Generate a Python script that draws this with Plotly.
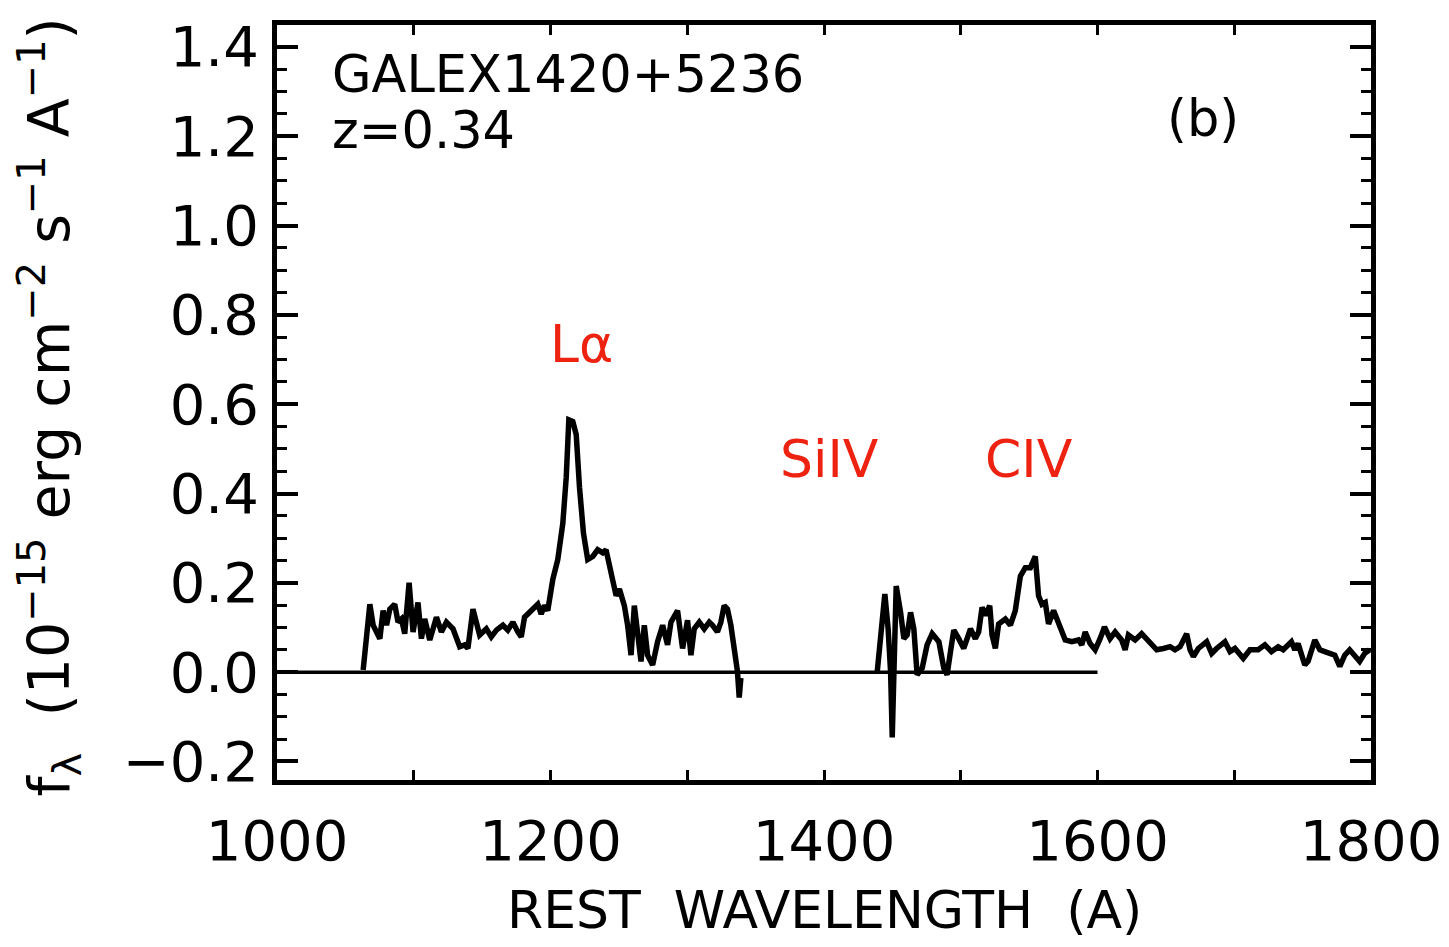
import plotly.graph_objects as go

# ---------------- data ----------------
wave_blue = [1063.0, 1067.9, 1070.3, 1075.2, 1077.6, 1080.1, 1082.5, 1086.1, 1088.5, 1091.0,
             1093.4, 1096.6, 1099.5, 1103.1, 1105.6, 1108.0, 1111.7, 1116.6, 1120.2, 1123.9,
             1128.7, 1133.6, 1137.2, 1139.6, 1143.3, 1148.2, 1153.1, 1156.7, 1160.4, 1165.2,
             1168.8, 1172.5, 1176.1, 1178.6, 1181.0, 1184.7, 1188.3, 1190.7, 1193.2, 1195.6,
             1198.0, 1201.7, 1205.3, 1209.0, 1211.5, 1213.4, 1216.3, 1218.8, 1221.2, 1224.1,
             1227.2, 1230.9, 1234.5, 1238.2, 1240.6, 1243.1, 1245.5, 1248.0, 1250.4, 1254.0,
             1256.4, 1258.9, 1261.3, 1263.7, 1266.2, 1268.6, 1271.0, 1274.7, 1278.3, 1282.0,
             1285.6, 1288.1, 1292.9, 1296.6, 1300.2, 1302.7, 1305.1, 1308.8, 1312.4, 1316.1,
             1318.5, 1322.1, 1324.6, 1327.0, 1329.4, 1331.9, 1334.3, 1336.7, 1338.0, 1339.2]
flux_blue = [0.005, 0.152, 0.105, 0.075, 0.138, 0.105, 0.141, 0.152, 0.112, 0.119,
             0.086, 0.200, 0.090, 0.156, 0.075, 0.119, 0.072, 0.123, 0.090, 0.112,
             0.097, 0.057, 0.061, 0.053, 0.141, 0.083, 0.097, 0.079, 0.094, 0.105,
             0.094, 0.112, 0.090, 0.079, 0.123, 0.134, 0.141, 0.152, 0.130, 0.149,
             0.138, 0.208, 0.252, 0.333, 0.436, 0.565, 0.561, 0.532, 0.414, 0.311,
             0.252, 0.259, 0.274, 0.267, 0.274, 0.237, 0.193, 0.171, 0.186, 0.149,
             0.105, 0.038, 0.149, 0.083, 0.024, 0.105, 0.038, 0.016, 0.068, 0.105,
             0.061, 0.112, 0.138, 0.053, 0.116, 0.038, 0.097, 0.112, 0.097, 0.112,
             0.105, 0.090, 0.112, 0.149, 0.141, 0.105, 0.053, 0.002, -0.057, -0.013]

wave_red = [1438.9, 1444.5, 1446.9, 1448.7, 1449.9, 1451.1, 1452.8, 1456.0, 1458.4, 1460.8,
            1463.3, 1465.7, 1468.1, 1471.8, 1475.4, 1479.1, 1484.0, 1487.6, 1490.0, 1492.5,
            1494.9, 1498.5, 1502.2, 1507.1, 1510.7, 1513.1, 1515.6, 1518.0, 1521.2, 1522.9,
            1525.3, 1527.7, 1532.6, 1536.3, 1539.9, 1543.6, 1547.2, 1550.9, 1554.5, 1556.9,
            1559.4, 1561.8, 1564.2, 1567.9, 1571.5, 1576.4, 1581.2, 1586.1, 1588.5, 1591.0,
            1594.6, 1598.3, 1601.9, 1605.1, 1609.2, 1612.9, 1617.7, 1620.2, 1622.6, 1627.5,
            1632.3, 1637.2, 1643.3, 1648.2, 1653.1, 1656.7, 1660.4, 1665.2, 1667.7, 1670.1,
            1673.7, 1679.8, 1683.5, 1687.1, 1693.2, 1696.9, 1700.5, 1706.6, 1711.5, 1717.5,
            1722.4, 1727.2, 1732.1, 1735.8, 1741.8, 1744.3, 1746.7, 1751.6, 1754.0, 1758.9,
            1762.6, 1766.2, 1773.5, 1777.2, 1780.8, 1784.4, 1788.1, 1791.7, 1795.4, 1799.0]
flux_red = [0.000, 0.175, 0.097, 0.000, -0.146, -0.006, 0.193, 0.134, 0.075, 0.083,
            0.134, 0.097, -0.006, 0.009, 0.061, 0.086, 0.068, 0.009, -0.006, 0.046,
            0.094, 0.075, 0.053, 0.097, 0.075, 0.090, 0.145, 0.127, 0.149, 0.083,
            0.053, 0.108, 0.119, 0.105, 0.138, 0.215, 0.234, 0.234, 0.259, 0.171,
            0.152, 0.156, 0.108, 0.138, 0.108, 0.072, 0.068, 0.072, 0.061, 0.090,
            0.064, 0.050, 0.075, 0.101, 0.075, 0.090, 0.072, 0.050, 0.083, 0.072,
            0.086, 0.068, 0.050, 0.053, 0.057, 0.050, 0.057, 0.086, 0.050, 0.035,
            0.053, 0.068, 0.042, 0.053, 0.068, 0.046, 0.053, 0.031, 0.050, 0.050,
            0.061, 0.046, 0.057, 0.050, 0.068, 0.050, 0.064, 0.016, 0.024, 0.072,
            0.050, 0.046, 0.038, 0.013, 0.038, 0.050, 0.038, 0.024, 0.042, 0.050]

zero_wave = [1000, 1600]
zero_flux = [0.0, 0.0]

x_tickvals = [1000, 1100, 1200, 1300, 1400, 1500, 1600, 1700, 1800]
x_ticktext = ["1000", "", "1200", "", "1400", "", "1600", "", "1800"]
y_tickvals = [-0.2, 0.0, 0.2, 0.4, 0.6, 0.8, 1.0, 1.2, 1.4]
y_ticktext = ["\u22120.2", "0.0", "0.2", "0.4", "0.6", "0.8", "1.0", "1.2", "1.4"]

line_labels = ["L\u03b1", "SiIV", "CIV"]
line_label_x = [1223, 1404, 1550]
line_label_y = [0.735, 0.477, 0.477]

object_name = "GALEX1420+5236"
redshift_text = "z=0.34"
panel_tag = "(b)"

# ---------------- figure ----------------
FONT = "DejaVu Sans"
RED = "#ee2211"

fig = go.Figure()
fig.add_trace(go.Scatter(x=zero_wave, y=zero_flux, mode="lines",
                         line=dict(color="black", width=3.5), hoverinfo="skip",
                         showlegend=False))
fig.add_trace(go.Scatter(x=wave_blue + [None] + wave_red,
                         y=flux_blue + [None] + flux_red,
                         mode="lines", connectgaps=False,
                         line=dict(color="black", width=5.5), showlegend=False))

axis_common = dict(showgrid=False, zeroline=False, showline=True, linecolor="black",
                   linewidth=5, mirror="ticks", ticks="inside", tickcolor="black",
                   tickfont=dict(family=FONT, size=56, color="black"))

fig.update_xaxes(range=[1000, 1800], tickmode="array", tickvals=x_tickvals,
                 ticktext=x_ticktext, ticklen=10, tickwidth=3,
                 ticklabelstandoff=8, **axis_common)
fig.update_yaxes(range=[-0.2415, 1.449], tickmode="array", tickvals=y_tickvals,
                 ticktext=y_ticktext, ticklen=21, tickwidth=4,
                 ticklabelstandoff=2,
                 minor=dict(dtick=0.05, tick0=0, ticks="inside", ticklen=10,
                            tickwidth=3, tickcolor="black", showgrid=False),
                 **axis_common)

annotations = []
# axis titles
annotations.append(dict(x=0.5, y=-0.1725, xref="paper", yref="paper",
                        text="REST  WAVELENGTH  (A)", showarrow=False,
                        xanchor="center", yanchor="middle",
                        font=dict(family=FONT, size=52, color="black")))
annotations.append(dict(x=-0.208, y=0.494, xref="paper", yref="paper",
                        text="f<sub>\u03bb</sub>  (10<sup>\u221215</sup> erg cm<sup>\u22122</sup> s<sup>\u22121</sup> A<sup>\u22121</sup>)",
                        textangle=-90, showarrow=False,
                        xanchor="center", yanchor="middle",
                        font=dict(family=FONT, size=57, color="black")))
# panel texts
annotations.append(dict(x=1038.7, y=1.338, xref="x", yref="y", text=object_name,
                        showarrow=False, xanchor="left", yanchor="middle",
                        font=dict(family=FONT, size=51, color="black")))
annotations.append(dict(x=1038.7, y=1.212, xref="x", yref="y", text=redshift_text,
                        showarrow=False, xanchor="left", yanchor="middle",
                        font=dict(family=FONT, size=51, color="black")))
annotations.append(dict(x=1677, y=1.239, xref="x", yref="y", text=panel_tag,
                        showarrow=False, xanchor="center", yanchor="middle",
                        font=dict(family=FONT, size=51, color="black")))
for t, lx, ly in zip(line_labels, line_label_x, line_label_y):
    annotations.append(dict(x=lx, y=ly, xref="x", yref="y", text=t,
                            showarrow=False, xanchor="center", yanchor="middle",
                            font=dict(family=FONT, size=52, color=RED)))

# the page body has an 8px margin, so the figure is a little smaller and shifted
fig.update_layout(width=1441, height=939,
                  margin=dict(l=269, r=76, t=7, b=167, pad=0),
                  paper_bgcolor="white", plot_bgcolor="white",
                  annotations=annotations, showlegend=False)

fig.write_html("out.html")
